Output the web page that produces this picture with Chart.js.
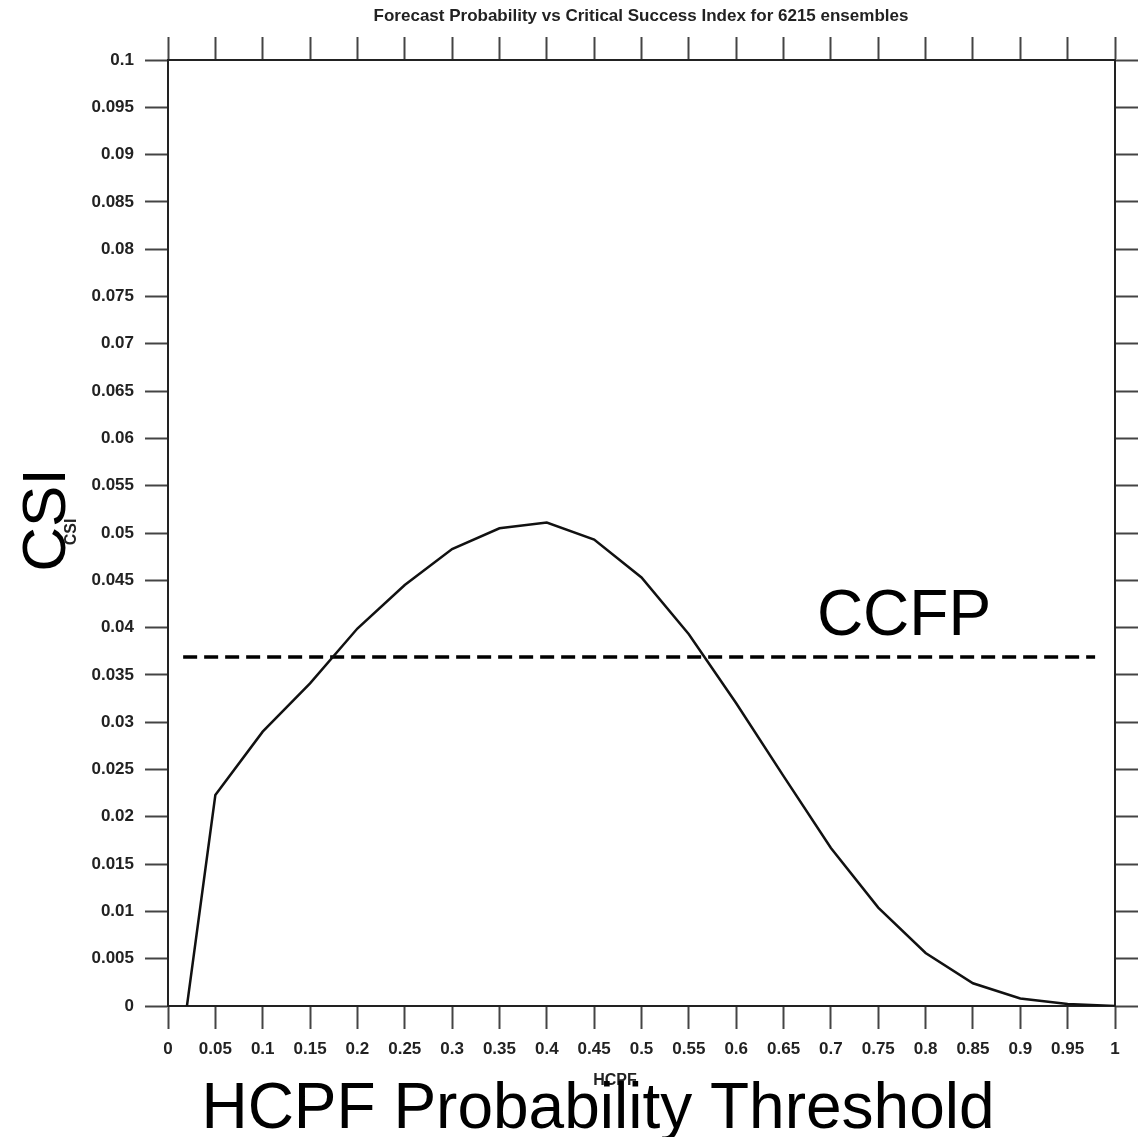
<!DOCTYPE html>
<html>
<head>
<meta charset="utf-8">
<script src="https://cdn.jsdelivr.net/npm/chart.js@4"></script>
<style>
  html, body { margin: 0; padding: 0; background: #fff; }
  canvas { display: block; }
</style>
</head>
<body>
<canvas id="myChart" width="1138" height="1137"></canvas>
<script>
const thresholds = [0.02, 0.05, 0.1, 0.15, 0.2, 0.25, 0.3, 0.35, 0.4, 0.45, 0.5,
  0.55, 0.6, 0.65, 0.7, 0.75, 0.8, 0.85, 0.9, 0.95, 1.0];
const csiValues = [0, 0.0223, 0.029, 0.0341, 0.0399, 0.0445, 0.0483, 0.0505, 0.0511, 0.0493, 0.0453,
  0.0393, 0.032, 0.0243, 0.0167, 0.0104, 0.0056, 0.0024, 0.0008, 0.0002, 0.0];
const ccfpX = [0.016, 0.979];
const ccfpY = [0.0369, 0.0369];

const chartTitle = "Forecast Probability vs Critical Success Index for 6215 ensembles";

const FONT = "'Liberation Sans', Arial, Helvetica, sans-serif";

function toPoints(xs, ys) {
  let pts = [];
  for (let i = 0; i < xs.length; i++) {
    pts.push({ x: xs[i], y: ys[i] });
  }
  return pts;
}

function fmt(v) {
  return String(+v.toFixed(3));
}

const tickFont = { family: FONT, size: 17, weight: "bold" };

const textPlugin = {
  id: "texts",
  afterDraw(chart) {
    const ctx = chart.ctx;
    ctx.save();

    ctx.font = "bold 17px " + FONT;
    ctx.textAlign = "center";
    ctx.textBaseline = "middle";
    ctx.fillStyle = "#222";
    ctx.fillText(chartTitle, 641, 16);

    ctx.font = "bold 16px " + FONT;
    ctx.fillText("HCPF", 615, 1081);

    ctx.fillStyle = "#000";
    ctx.font = "64px " + FONT;
    ctx.textBaseline = "alphabetic";
    ctx.fillText("HCPF Probability Threshold", 598, 1128);
    ctx.fillText("CCFP", 904, 635);

    ctx.save();
    ctx.translate(65, 520);
    ctx.rotate(-Math.PI / 2);
    ctx.font = "62px " + FONT;
    ctx.fillText("CSI", 0, 0);
    ctx.restore();

    ctx.save();
    ctx.translate(76, 532);
    ctx.rotate(-Math.PI / 2);
    ctx.fillStyle = "#222";
    ctx.font = "bold 16px " + FONT;
    ctx.fillText("CSI", 0, 0);
    ctx.restore();

    ctx.restore();
  },
};

const config = {
  type: "line",
  data: {
    datasets: [
      {
        label: "HCPF",
        data: toPoints(thresholds, csiValues),
        borderColor: "#111",
        borderWidth: 2.5,
        pointRadius: 0,
        tension: 0,
        fill: false,
      },
      {
        label: "CCFP",
        data: toPoints(ccfpX, ccfpY),
        borderColor: "#000",
        borderWidth: 3.5,
        borderDash: [14, 7],
        pointRadius: 0,
        fill: false,
      },
    ],
  },
  options: {
    responsive: false,
    animation: false,
    layout: { padding: 0 },
    plugins: {
      legend: { display: false },
      title: { display: false },
      tooltip: { enabled: false },
    },
    scales: {
      x: {
        type: "linear",
        position: "bottom",
        min: 0,
        max: 1,
        afterFit: (s) => { s.height = 131; },
        ticks: {
          stepSize: 0.05,
          autoSkip: false,
          maxRotation: 0,
          padding: 10,
          color: "#222",
          font: tickFont,
          callback: (v) => fmt(v),
        },
        grid: { drawOnChartArea: false, tickLength: 23, tickWidth: 2, tickColor: "#444" },
        border: { display: true, color: "#222", width: 2 },
      },
      x2: {
        type: "linear",
        position: "top",
        min: 0,
        max: 1,
        afterFit: (s) => { s.height = 60; },
        ticks: { stepSize: 0.05, autoSkip: false, maxRotation: 0, callback: () => "" },
        grid: { drawOnChartArea: false, tickLength: 23, tickWidth: 2, tickColor: "#444" },
        border: { display: true, color: "#222", width: 2 },
      },
      y: {
        type: "linear",
        position: "left",
        min: 0,
        max: 0.1,
        afterFit: (s) => { s.width = 168; },
        ticks: {
          stepSize: 0.005,
          autoSkip: false,
          padding: 11,
          color: "#222",
          font: tickFont,
          callback: (v) => fmt(v),
        },
        grid: { drawOnChartArea: false, tickLength: 23, tickWidth: 2, tickColor: "#444" },
        border: { display: true, color: "#222", width: 2 },
      },
      y2: {
        type: "linear",
        position: "right",
        min: 0,
        max: 0.1,
        afterFit: (s) => { s.width = 23; },
        ticks: { stepSize: 0.005, autoSkip: false, callback: () => "" },
        grid: { drawOnChartArea: false, tickLength: 23, tickWidth: 2, tickColor: "#444" },
        border: { display: true, color: "#222", width: 2 },
      },
    },
  },
  plugins: [textPlugin],
};

const myChart = new Chart(document.getElementById("myChart"), config);
</script>
</body>
</html>
